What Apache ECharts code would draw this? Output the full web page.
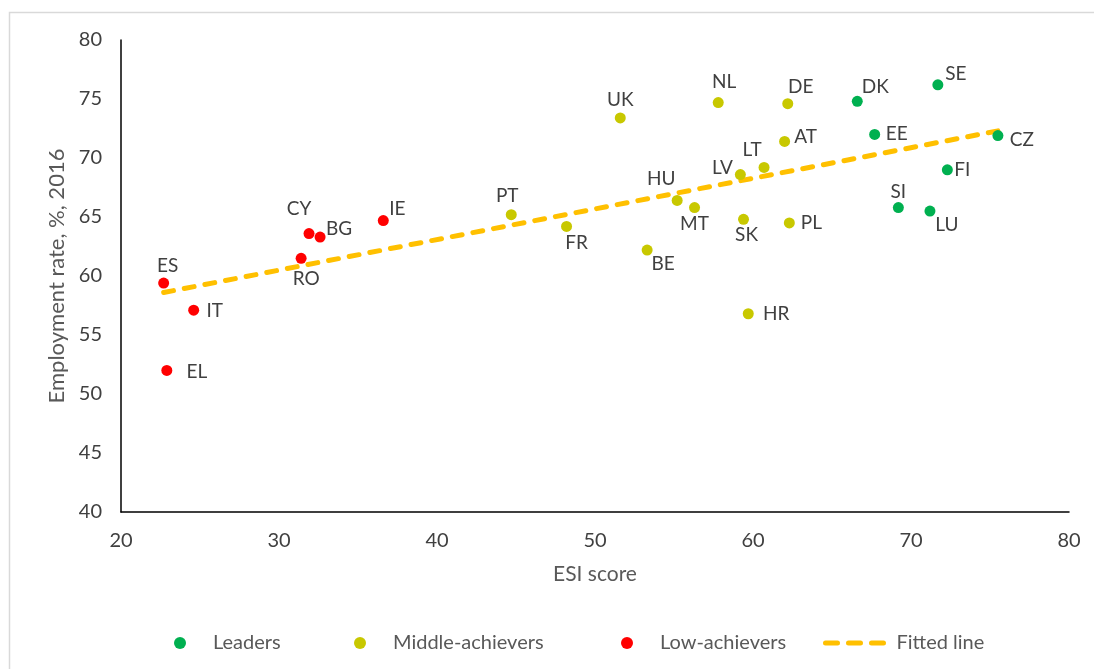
<!DOCTYPE html>
<html>
<head>
<meta charset="utf-8">
<title>Employment rate vs ESI score</title>
<script src="https://cdn.jsdelivr.net/npm/echarts@6/dist/echarts.min.js"></script>
<style>
  html, body { margin: 0; padding: 0; background: #ffffff; }
  #chart { width: 1094px; height: 669px; }
</style>
</head>
<body>
<div id="chart"></div>
<script>
// Country groups: [ESI score, employment rate 2016]
const leadersNames = ['SE', 'DK', 'EE', 'CZ', 'FI', 'SI', 'LU'];
const leadersX = [71.7, 66.6, 67.7, 75.5, 72.3, 69.2, 71.2];
const leadersY = [76.2, 74.8, 72.0, 71.9, 69.0, 65.8, 65.5];

const middleNames = ['UK', 'NL', 'DE', 'AT', 'LT', 'LV', 'HU', 'MT', 'SK', 'PL', 'PT', 'FR', 'BE', 'HR'];
const middleX = [51.6, 57.8, 62.2, 62.0, 60.7, 59.2, 55.2, 56.3, 59.4, 62.3, 44.7, 48.2, 53.3, 59.7];
const middleY = [73.4, 74.7, 74.6, 71.4, 69.2, 68.6, 66.4, 65.8, 64.8, 64.5, 65.2, 64.2, 62.2, 56.8];

const lowNames = ['ES', 'IT', 'EL', 'CY', 'BG', 'RO', 'IE'];
const lowX = [22.7, 24.6, 22.9, 31.9, 32.6, 31.4, 36.6];
const lowY = [59.4, 57.1, 52.0, 63.6, 63.3, 61.5, 64.7];

// Fitted regression line end points
const fitX = [22.7, 75.5];
const fitY = [58.6, 72.3];

// Axis ranges
const xTicks = [20, 30, 40, 50, 60, 70, 80];
const yTicks = [40, 45, 50, 55, 60, 65, 70, 75, 80];

// Label placement around each marker (pixel offset of label centre)
const labelOffset = {
  SE: [18, -11], DK: [18, -14], EE: [22, -1], CZ: [24, 4], FI: [15, 0], SI: [0, -16], LU: [17, 14],
  UK: [0, -18], NL: [6, -21], DE: [13, -17], AT: [21, -5], LT: [-12, -18], LV: [-18, -7],
  HU: [-16, -22], MT: [0, 16], SK: [3, 16], PL: [22, 0], PT: [-4, -19], FR: [10, 16],
  BE: [16, 14], HR: [28, 0],
  ES: [4, -17], IT: [21, 1], EL: [30, 1], CY: [-10, -25], BG: [19, -8], RO: [5, 21], IE: [14, -12]
};

const FONT = 'Lato, "Open Sans", sans-serif';
const labelColor = '#404040';
const titleColor = '#595959';

function points(names, xs, ys) {
  return names.map((n, i) => ({
    name: n,
    value: [xs[i], ys[i]],
    label: { offset: labelOffset[n] || [0, -14] }
  }));
}

function scatter(name, color, names, xs, ys) {
  return {
    name: name,
    type: 'scatter',
    symbol: 'circle',
    symbolSize: 11,
    itemStyle: { color: color, opacity: 1 },
    label: {
      show: true,
      position: 'inside',
      formatter: '{b}',
      color: labelColor,
      fontFamily: FONT,
      fontSize: 19
    },
    data: points(names, xs, ys),
    z: 3
  };
}

const chart = echarts.init(document.getElementById('chart'), null, { renderer: 'canvas' });

const legendText = { color: titleColor, fontFamily: FONT, fontSize: 20 };

function dotLegend(name, left) {
  return {
    orient: 'horizontal',
    left: left,
    top: 628,
    itemWidth: 12,
    itemHeight: 12,
    selectedMode: false,
    data: [{ name: name, icon: 'circle' }],
    textStyle: Object.assign({}, legendText, { padding: [0, 0, 0, 22] })
  };
}

chart.setOption({
  backgroundColor: '#ffffff',
  animation: false,
  graphic: [{
    type: 'rect',
    shape: { x: 9.5, y: 12.5, width: 1300, height: 900 },
    style: { fill: 'none', stroke: '#d9d9d9', lineWidth: 1.5 },
    silent: true,
    z: -10
  }],
  grid: { left: 121, right: 25, top: 40, bottom: 157, containLabel: false },
  legend: [
    dotLegend('Leaders', 169),
    dotLegend('Middle-achievers', 349),
    dotLegend('Low-achievers', 616),
    {
      orient: 'horizontal',
      left: 818,
      top: 628,
      itemWidth: 66,
      itemHeight: 14,
      selectedMode: false,
      data: [{ name: 'Fitted line' }],
      itemStyle: { opacity: 0 },
      lineStyle: { color: '#FFC000', width: 5, type: [12, 11], cap: 'round' },
      textStyle: Object.assign({}, legendText, { padding: [0, 0, 0, 0] })
    }
  ],
  xAxis: {
    type: 'value',
    min: xTicks[0],
    max: xTicks[xTicks.length - 1],
    interval: 10,
    name: 'ESI score',
    nameLocation: 'middle',
    nameGap: 52,
    nameTextStyle: { color: titleColor, fontFamily: FONT, fontSize: 21 },
    axisLine: { show: true, onZero: false, lineStyle: { color: '#000000', width: 1.5 } },
    axisTick: { show: false },
    splitLine: { show: false },
    axisLabel: { margin: 19, color: labelColor, fontFamily: FONT, fontSize: 20 }
  },
  yAxis: {
    type: 'value',
    min: yTicks[0],
    max: yTicks[yTicks.length - 1],
    interval: 5,
    name: 'Employment rate, %, 2016',
    nameLocation: 'middle',
    nameGap: 50,
    nameTextStyle: { color: titleColor, fontFamily: FONT, fontSize: 22 },
    axisLine: { show: true, onZero: false, lineStyle: { color: '#000000', width: 1.5 } },
    axisTick: { show: false },
    splitLine: { show: false },
    axisLabel: { margin: 19, color: labelColor, fontFamily: FONT, fontSize: 20 }
  },
  series: [
    scatter('Leaders', '#00B050', leadersNames, leadersX, leadersY),
    scatter('Middle-achievers', '#C8C800', middleNames, middleX, middleY),
    scatter('Low-achievers', '#FF0000', lowNames, lowX, lowY),
    {
      name: 'Fitted line',
      type: 'line',
      symbol: 'none',
      showSymbol: false,
      data: fitX.map((x, i) => [x, fitY[i]]),
      lineStyle: { color: '#FFC000', width: 5, type: [10, 11], cap: 'round' },
      itemStyle: { color: '#FFC000' },
      z: 2
    }
  ]
});
</script>
</body>
</html>
